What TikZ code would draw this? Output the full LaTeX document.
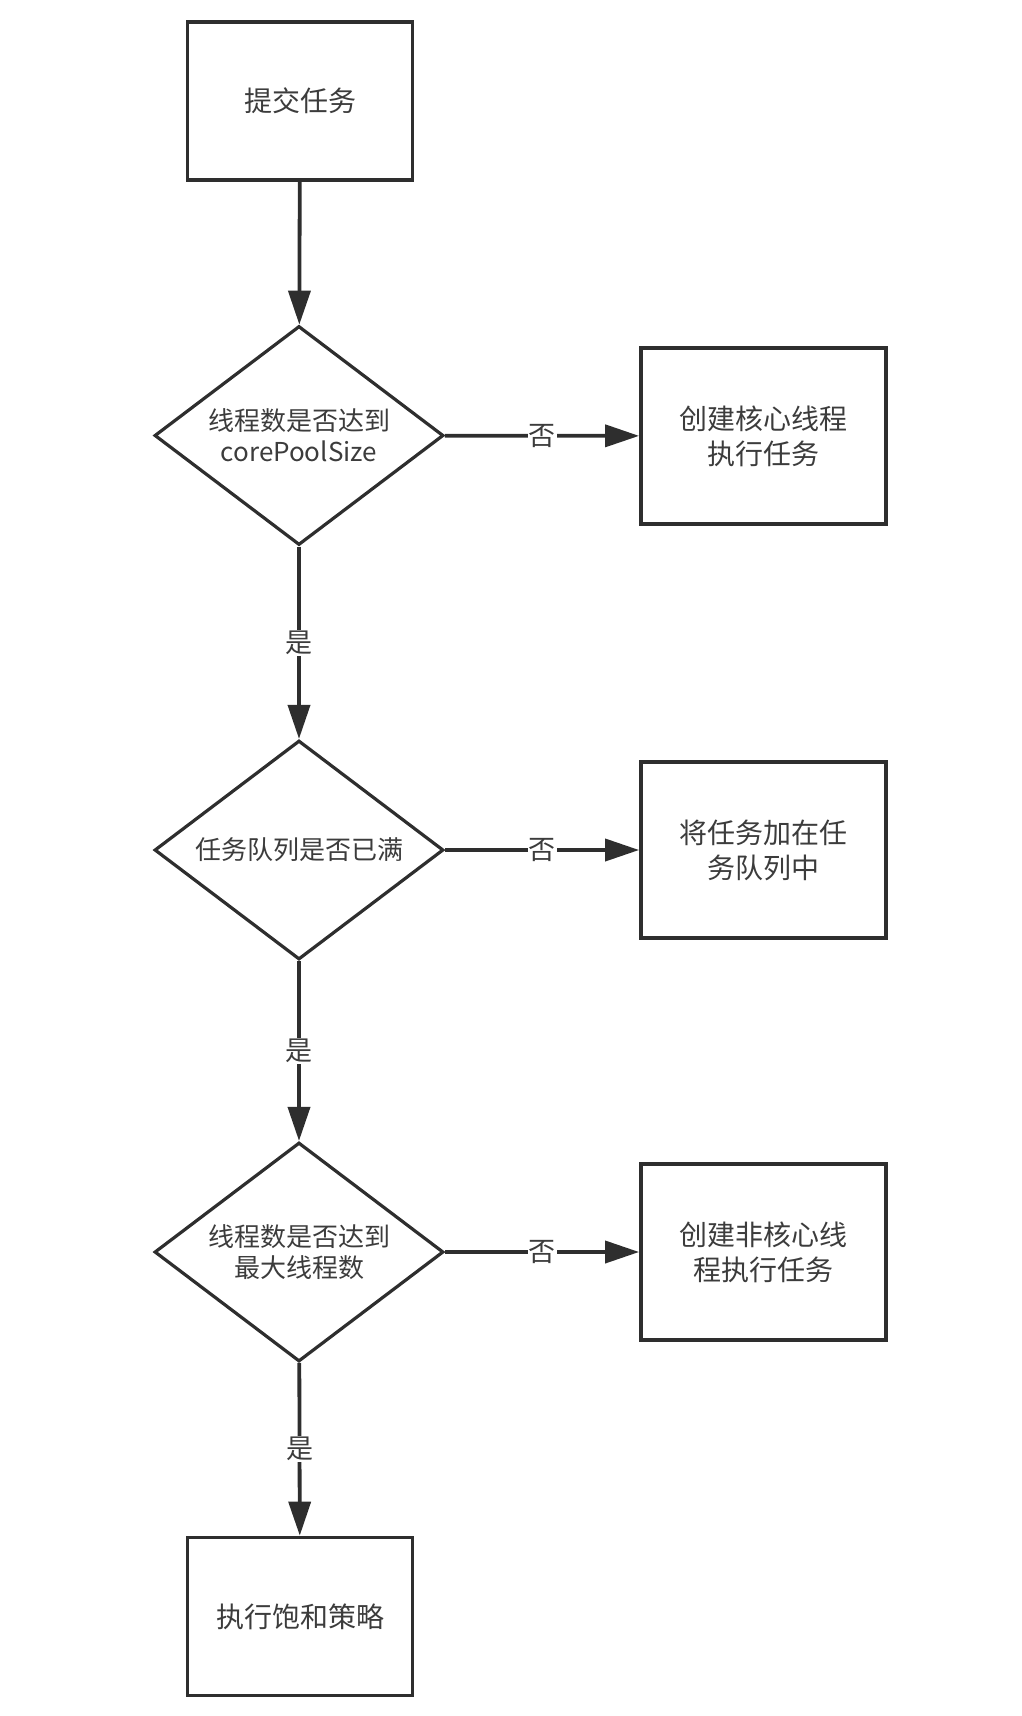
\documentclass[tikz,border=0pt]{standalone}
\usepackage{fontspec}
\newfontfamily\cjk{Noto Sans CJK SC}
\usetikzlibrary{arrows.meta,shapes.geometric}
\definecolor{ink}{HTML}{2E2E2E}
\definecolor{txt}{HTML}{3C3C3C}
\newcommand{\BoxFont}{\cjk\fontsize{28}{35}\selectfont}
\newcommand{\DiaFont}{\cjk\fontsize{26}{31}\selectfont}
\newcommand{\TagFont}{\cjk\fontsize{27}{30}\selectfont}

\begin{document}
\begin{tikzpicture}[x=1pt,y=-1pt,
    stepbox/.style={draw=ink, line width=3.8pt, text=txt, align=center, inner sep=0pt, font=\BoxFont},
    test/.style={draw=ink, line width=3.2pt, shape=diamond, aspect=1.32, inner sep=0pt,
      minimum width=289pt, minimum height=219pt, text=txt, align=center, font=\DiaFont},
    flow/.style={draw=ink, line width=3.8pt, -{Triangle[length=34pt,width=22pt]}},
    tag/.style={fill=white, text=txt, inner sep=1pt, font=\TagFont}]
  \useasboundingbox (0,0) rectangle (1022,1716);
  % main column
  \node[stepbox, minimum width=225pt, minimum height=158pt] (submit) at (300,101) {提交任务};
  \node[test] (chkcore) at (299,435.5) {线程数是否达到\\corePoolSize};
  \node[test] (chkqueue) at (299,850) {任务队列是否已满};
  \node[test] (chkmax) at (299,1252) {线程数是否达到\\最大线程数};
  \node[stepbox, minimum width=225pt, minimum height=158pt] (reject) at (300,1616.5) {执行饱和策略};
  % right column
  \node[stepbox, minimum width=245pt, minimum height=176pt] (mkcore) at (763.5,436) {创建核心线程\\执行任务};
  \node[stepbox, minimum width=245pt, minimum height=176pt] (enqueue) at (763.5,850) {将任务加在任\\务队列中};
  \node[stepbox, minimum width=245pt, minimum height=176pt] (mknoncore) at (763.5,1252) {创建非核心线\\程执行任务};
  % connectors
  \draw[flow] (submit) -- (chkcore);
  \draw[flow] (chkcore) -- node[tag]{是} (chkqueue);
  \draw[flow] (chkqueue) -- node[tag]{是} (chkmax);
  \draw[flow] (chkmax) -- node[tag]{是} (reject);
  \draw[flow] (chkcore) -- node[tag]{否} (mkcore);
  \draw[flow] (chkqueue) -- node[tag]{否} (enqueue);
  \draw[flow] (chkmax) -- node[tag]{否} (mknoncore);
\end{tikzpicture}
\end{document}
